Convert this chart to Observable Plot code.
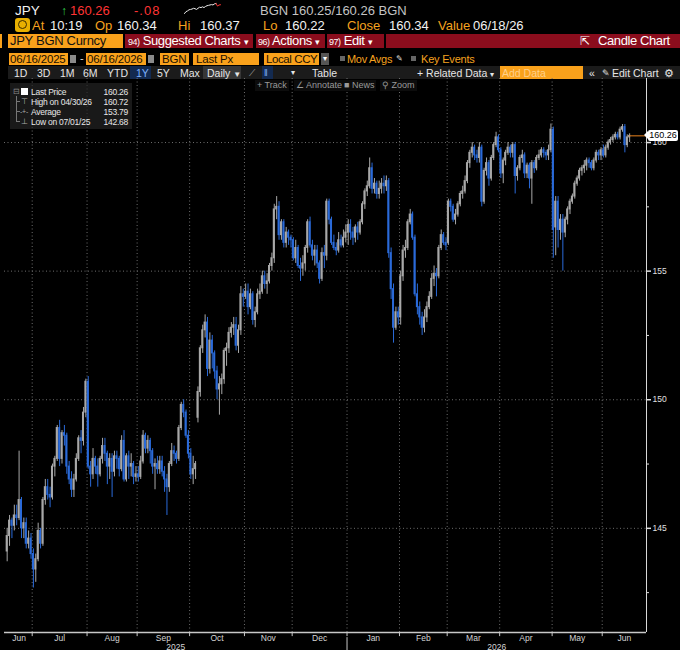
<!DOCTYPE html>
<html><head><meta charset="utf-8">
<script src="https://cdn.jsdelivr.net/npm/d3@7"></script>
<script src="https://cdn.jsdelivr.net/npm/@observablehq/plot@0.6"></script>
<style>
body{margin:0;background:#000;}
#page{position:relative;width:680px;height:650px;overflow:hidden;background:#000;font-family:"Liberation Sans",Arial,sans-serif;}
.a{position:absolute;white-space:nowrap;}
.r1{top:4px;font-size:13px;line-height:14px;}
.r2{top:19px;font-size:13px;line-height:14px;}
.o{color:#f5a21f;} .w{color:#f2f2f2;}
.ob{position:absolute;top:34px;height:14px;background:#f9a11b;color:#111;font-size:13px;line-height:14px;letter-spacing:-0.3px;white-space:nowrap;overflow:hidden;}
.rb{position:absolute;top:34px;height:14px;background:#8b0d1d;color:#fff;font-size:13px;line-height:14px;letter-spacing:-0.4px;white-space:nowrap;overflow:hidden;}
.rb small{font-size:9px;letter-spacing:-0.5px;}
.ib{position:absolute;top:53px;height:12px;background:#f9a11b;color:#1a1000;font-size:11.5px;line-height:12px;letter-spacing:-0.2px;white-space:nowrap;overflow:hidden;}
.r5{position:absolute;top:67px;font-size:10.5px;line-height:12px;color:#e6e6e6;white-space:nowrap;}
.r6{position:absolute;top:80px;font-size:9px;line-height:11px;color:#9a9a9a;background:#0c0c0c;padding:0 2px;white-space:nowrap;}
.lg{position:absolute;font-size:8.5px;line-height:10px;color:#e8e8e8;letter-spacing:-0.25px;white-space:nowrap;}
#tag{position:absolute;left:648px;width:30px;height:11px;background:#fff;color:#000;font-size:9px;line-height:11px;text-align:center;border-radius:2px;}
#tag:before{content:"";position:absolute;left:-4px;top:1.5px;border-top:4px solid transparent;border-bottom:4px solid transparent;border-right:4px solid #fff;}
</style></head>
<body><div id="page">
<!-- row 1 -->
<div class="a r1 w" style="left:15px;font-size:13.5px;">JPY</div>
<div class="a r1" style="left:61px;color:#2fd04a;font-size:12px;">↑</div>
<div class="a r1" style="left:70px;color:#ff3434;">160.26</div>
<div class="a r1" style="left:134px;color:#ff3434;letter-spacing:1px;">-.08</div>
<div class="a" id="spark" style="left:183px;top:2px;width:38px;height:12px;"></div>
<div class="a r1" style="left:260px;color:#c4c4c4;">BGN 160.25/160.26 BGN</div>
<!-- row 2 -->
<div class="a" style="left:15px;top:18px;width:15px;height:14px;background:#e8b000;border-radius:3px;"><div style="position:absolute;left:3px;top:2px;width:7px;height:7px;border:1.5px solid #3a2a00;border-radius:50%;"></div></div>
<div class="a r2 o" style="left:32px;">At</div>
<div class="a r2 w" style="left:50px;">10:19</div>
<div class="a r2 o" style="left:95px;">Op</div>
<div class="a r2 w" style="left:117px;">160.34</div>
<div class="a r2 o" style="left:178px;">Hi</div>
<div class="a r2 w" style="left:200px;">160.37</div>
<div class="a r2 o" style="left:263px;">Lo</div>
<div class="a r2 w" style="left:285px;">160.22</div>
<div class="a r2 o" style="left:347px;">Close</div>
<div class="a r2 w" style="left:389px;">160.34</div>
<div class="a r2 o" style="left:438px;">Value</div>
<div class="a r2 w" style="left:473px;">06/18/26</div>
<!-- row 3 -->
<div class="a" style="left:0;top:34px;width:2px;height:14px;background:#f9a11b;"></div>
<div class="ob" style="left:8px;width:115px;padding-left:2px;box-sizing:border-box;">JPY BGN Curncy</div>
<div class="rb" style="left:125px;width:128px;padding-left:3px;box-sizing:border-box;"><small>94)</small> Suggested Charts <small>▾</small></div>
<div class="rb" style="left:256px;width:69px;padding-left:2px;box-sizing:border-box;"><small>96)</small> Actions <small>▾</small></div>
<div class="rb" style="left:327px;width:57px;padding-left:2px;box-sizing:border-box;"><small>97)</small> Edit <small>▾</small></div>
<div class="rb" style="left:386px;width:294px;"><span style="position:absolute;left:194px;font-size:12px;">⇱</span><span style="position:absolute;left:212px;">Candle Chart</span></div>
<!-- row 4 -->
<div class="ib" style="left:9px;width:59px;padding-left:1px;box-sizing:border-box;">06/16/2025</div>
<div class="a" style="left:70px;top:55px;width:6px;height:8px;background:#8a8a8a;"></div>
<div class="a" style="left:80px;top:52px;font-size:11px;color:#ddd;">-</div>
<div class="ib" style="left:86px;width:60px;padding-left:1px;box-sizing:border-box;">06/16/2026</div>
<div class="a" style="left:148px;top:55px;width:6px;height:8px;background:#8a8a8a;"></div>
<div class="ib" style="left:160px;width:29px;padding-left:2px;box-sizing:border-box;">BGN</div>
<div class="ib" style="left:193px;width:66px;padding-left:3px;box-sizing:border-box;">Last Px</div>
<div class="ib" style="left:264px;width:55px;padding-left:2px;box-sizing:border-box;letter-spacing:-0.4px;">Local CCY</div>
<div class="a" style="left:321px;top:53px;width:8px;height:12px;background:#555;color:#fff;font-size:8px;line-height:12px;text-align:center;">▾</div>
<div class="a" style="left:340px;top:56px;width:5px;height:5px;background:#666;"></div>
<div class="a o" style="left:347px;top:53px;font-size:11px;line-height:12px;letter-spacing:-0.3px;">Mov Avgs</div>
<div class="a" style="left:396px;top:53px;font-size:8px;line-height:12px;color:#ddd;">✎</div>
<div class="a" style="left:411px;top:56px;width:5px;height:5px;background:#666;"></div>
<div class="a o" style="left:421px;top:53px;font-size:11px;line-height:12px;letter-spacing:-0.2px;">Key Events</div>
<!-- row 5 -->
<div class="a" style="left:8px;top:66px;width:672px;height:13px;background:#1b1b1b;"></div>
<div class="r5" style="left:14px;">1D</div>
<div class="r5" style="left:37px;">3D</div>
<div class="r5" style="left:60px;">1M</div>
<div class="r5" style="left:83px;">6M</div>
<div class="r5" style="left:107px;">YTD</div>
<div class="a" style="left:130px;top:66px;width:21px;height:13px;background:#132a50;"></div>
<div class="r5" style="left:136px;color:#7fb2ff;">1Y</div>
<div class="r5" style="left:157px;">5Y</div>
<div class="r5" style="left:180px;">Max</div>
<div class="a" style="left:203px;top:66px;width:38px;height:13px;background:#363636;"></div>
<div class="r5" style="left:207px;">Daily <span style="font-size:8px;">▼</span></div>
<div class="r5" style="left:249px;color:#aaa;font-size:9px;">⟋</div>
<div class="a" style="left:262px;top:66px;width:11px;height:13px;background:#132a50;"></div>
<div class="r5" style="left:264px;color:#7fb2ff;font-size:9px;">ǁ</div>
<div class="r5" style="left:291px;font-size:8px;">▾</div>
<div class="r5" style="left:312px;">Table</div>
<div class="r5" style="left:417px;">+ Related Data <span style="font-size:8px;">▾</span></div>
<div class="a" style="left:500px;top:66px;width:83px;height:13px;background:#f9a11b;"></div>
<div class="r5" style="left:502px;color:#ffd08a;">Add Data</div>
<div class="r5" style="left:589px;">«</div>
<div class="r5" style="left:602px;font-size:9px;">✎</div>
<div class="r5" style="left:612px;">Edit Chart</div>
<div class="r5" style="left:664px;">⚙</div>
<!-- chart -->
<div class="a" id="chart" style="left:0;top:78px;"></div>
<!-- row 6 -->
<div class="r6" style="left:255px;">+ Track</div>
<div class="r6" style="left:294px;">∠ Annotate</div>
<div class="r6" style="left:342px;">■ News</div>
<div class="r6" style="left:380px;">⚲ Zoom</div>
<!-- legend -->
<div class="a" style="left:10px;top:83px;width:122px;height:46px;background:rgba(34,34,34,0.72);"></div>
<div class="a" style="left:16px;top:96px;width:1px;height:26px;background:#777;"></div>
<div class="a" style="left:16px;top:101px;width:4px;height:1px;background:#777;"></div>
<div class="a" style="left:16px;top:111px;width:4px;height:1px;background:#777;"></div>
<div class="a" style="left:16px;top:121px;width:4px;height:1px;background:#777;"></div>
<div class="lg" style="left:13px;top:87px;color:#888;font-size:8px;">⊟</div>
<div class="a" style="left:21px;top:88px;width:7px;height:7px;background:#fff;"></div>
<div class="lg" style="left:21px;top:97px;color:#aaa;font-size:8px;">⊤</div>
<div class="lg" style="left:20px;top:107px;color:#aaa;font-size:7px;">-+-</div>
<div class="lg" style="left:21px;top:117px;color:#aaa;font-size:8px;">⊥</div>
<div class="lg" style="left:31px;top:87px;">Last Price</div>
<div class="lg" style="left:31px;top:97px;">High on 04/30/26</div>
<div class="lg" style="left:31px;top:107px;">Average</div>
<div class="lg" style="left:31px;top:117px;">Low on 07/01/25</div>
<div class="lg" style="left:98px;top:87px;width:30px;text-align:right;">160.26</div>
<div class="lg" style="left:98px;top:97px;width:30px;text-align:right;">160.72</div>
<div class="lg" style="left:98px;top:107px;width:30px;text-align:right;">153.79</div>
<div class="lg" style="left:98px;top:117px;width:30px;text-align:right;">142.68</div>
<div id="tag"></div>
</div>
<script>
// Daily OHLC, USD/JPY (JPY BGN Curncy), 06/16/2025 - 06/16/2026, one value per trading day
const opens = [
 144.1,144.7,145.3,145.1,145.5,145.4,146.1,145.0,145.2,144.4,144.6,
 144.0,143.4,143.8,144.9,144.4,146.1,146.6,146.3,146.2,147.4,147.7,148.9,147.7,148.7,148.6,147.4,146.9,146.5,146.9,147.7,148.5,148.4,149.5,
 150.7,147.4,147.1,147.7,147.4,147.1,147.7,148.2,147.9,147.4,147.7,147.2,147.8,147.7,147.3,148.4,146.9,147.8,147.4,147.5,147.0,
 147.1,147.0,147.6,148.6,148.1,148.4,148.0,147.4,147.5,147.3,147.6,147.2,146.9,146.6,147.5,148.0,147.9,147.7,148.9,149.8,149.5,148.6,
 147.9,147.1,147.3,149.3,150.3,152.0,152.7,153.0,151.2,152.3,151.8,151.1,150.4,150.6,150.8,151.9,152.0,152.6,152.8,152.9,152.1,152.7,154.1,
 154.0,154.2,153.6,154.1,153.1,153.4,154.1,154.2,154.8,154.5,154.6,155.2,155.5,157.4,157.5,156.4,156.9,156.1,156.5,156.3,
 156.2,155.5,155.9,155.2,155.1,155.3,155.9,156.9,156.0,155.6,155.8,155.3,154.7,155.7,155.6,157.7,157.0,156.1,155.9,155.8,156.2,156.0,156.3,
 156.5,156.8,156.5,156.3,156.7,156.5,156.9,157.6,158.1,158.3,159.0,158.2,158.4,158.0,158.2,158.4,158.3,158.5,155.7,154.3,152.8,153.4,
 153.2,154.8,155.8,155.9,156.9,157.2,156.3,154.1,153.6,153.2,152.8,153.2,153.6,154.0,154.7,154.9,154.8,155.9,156.4,156.1,
 156.1,157.7,157.5,157.0,157.2,157.6,158.0,158.1,158.5,159.2,159.6,159.8,159.5,159.4,159.8,157.7,158.9,159.2,158.6,159.4,159.9,160.2,
 159.7,158.8,159.3,159.6,159.8,159.6,159.9,158.7,159.0,159.4,159.5,158.8,159.1,158.6,159.2,159.0,159.4,159.5,159.7,159.6,159.5,159.7,
 160.5,156.7,157.7,156.6,157.0,156.5,157.0,157.4,157.7,157.9,158.4,158.6,158.9,159.0,159.1,159.3,159.2,159.0,159.3,159.6,159.5,
 159.7,159.5,159.8,160.0,160.1,160.2,160.3,160.2,160.5,160.6,159.9,160.2
];
const highs = [
 145.0,145.5,145.4,145.9,145.9,148.0,146.2,145.4,145.4,144.9,144.8,
 144.2,144.0,145.2,145.0,146.2,146.9,146.9,146.6,147.5,147.8,149.0,149.2,148.8,149.0,148.7,147.6,147.2,147.1,147.9,148.6,148.8,149.7,150.8,
 150.9,147.6,148.1,147.8,147.7,147.8,148.5,148.5,148.0,147.9,147.9,148.0,148.0,147.8,148.6,148.8,147.9,148.0,147.9,147.6,147.4,
 147.4,147.8,148.8,148.7,148.6,148.5,148.1,147.7,147.8,147.8,147.8,147.4,147.1,147.6,148.3,148.2,148.0,149.0,149.9,150.0,149.6,148.8,
 148.1,147.8,147.6,150.5,152.1,152.9,153.3,153.2,152.6,152.5,151.9,151.3,150.9,151.0,152.0,152.2,152.8,153.0,153.2,153.2,152.9,154.4,154.3,
 154.5,154.5,154.3,154.2,153.6,154.3,154.5,155.0,155.0,154.9,155.3,155.7,157.6,157.9,157.7,157.0,157.0,156.7,156.6,156.4,
 156.3,156.2,156.0,155.5,155.6,156.0,157.0,157.1,156.2,156.0,156.0,155.4,155.9,156.0,157.8,157.8,157.1,156.4,156.1,156.5,156.4,156.6,156.8,
 157.0,157.0,156.7,156.8,156.9,157.0,157.7,158.2,158.5,159.4,159.2,158.6,158.5,158.5,158.6,158.7,158.7,158.6,155.9,154.5,153.6,153.6,
 155.0,156.0,156.2,157.0,157.4,157.3,156.4,154.5,153.8,153.4,153.5,153.8,154.2,154.9,155.2,155.1,156.0,156.6,156.5,156.3,
 157.8,157.8,157.6,157.4,157.7,158.1,158.3,158.7,159.3,159.7,160.0,159.9,159.7,160.0,159.9,159.0,159.4,159.3,159.5,160.0,160.4,160.3,
 159.8,159.4,159.7,160.0,159.9,160.0,160.0,159.1,159.5,159.7,159.6,159.2,159.2,159.3,159.3,159.5,159.7,159.8,159.8,159.7,159.9,160.72,
 160.6,157.9,157.9,157.2,157.2,157.1,157.5,157.8,158.0,158.5,158.7,159.0,159.1,159.3,159.4,159.4,159.3,159.4,159.7,159.7,159.8,
 159.9,159.9,160.1,160.2,160.3,160.4,160.4,160.6,160.7,160.7,160.3,160.34
];
const lows = [
 143.7,144.3,144.6,144.9,145.1,145.3,144.6,144.6,144.2,144.2,143.8,
 142.68,142.9,143.7,144.2,144.3,145.9,146.1,145.8,146.1,147.0,147.6,147.4,147.5,148.2,147.1,146.7,146.2,146.2,146.8,147.6,147.9,148.2,149.3,
 147.3,146.6,146.9,147.1,146.6,147.0,147.5,147.6,146.7,146.9,146.2,147.0,147.3,147.0,147.2,146.8,146.8,146.9,147.0,146.7,146.8,
 146.8,146.9,147.5,147.9,147.9,147.5,147.1,146.5,147.1,147.1,147.0,146.4,145.5,146.4,147.4,147.6,147.5,147.6,148.8,149.3,148.5,147.7,
 146.9,146.7,146.9,149.1,150.1,151.8,152.4,150.9,151.0,151.2,150.8,150.0,149.4,150.2,150.6,151.3,151.8,152.4,152.5,151.9,151.8,152.5,153.6,
 153.9,153.3,153.5,152.9,152.8,153.3,153.9,154.1,154.3,154.1,154.5,155.0,155.3,157.0,156.2,156.2,155.9,155.9,156.0,155.9,
 155.4,155.3,155.1,154.6,154.8,155.0,155.7,155.9,155.4,155.2,155.1,154.5,154.6,155.1,155.4,156.8,156.0,155.8,155.6,155.7,155.9,155.9,156.1,
 156.0,156.2,156.0,156.1,156.2,156.4,156.8,157.4,157.9,158.2,158.0,158.0,157.8,157.8,158.0,158.0,158.1,155.5,153.9,152.2,152.7,152.9,
 152.9,154.6,155.5,155.8,156.8,156.2,154.0,153.3,152.9,152.5,152.6,153.0,153.5,153.9,154.4,154.0,154.7,155.8,156.0,155.8,
 156.0,157.3,156.9,156.8,157.1,157.5,157.8,158.0,158.4,159.0,159.4,159.3,159.2,159.2,157.5,157.6,158.7,158.3,158.5,159.3,159.8,159.6,
 158.6,158.4,159.1,159.5,159.4,159.4,158.0,158.5,158.9,159.2,158.6,158.6,158.2,157.6,158.8,158.9,159.3,159.4,159.4,159.3,159.3,159.6,
 155.5,155.6,155.9,156.2,155.0,156.3,156.8,157.2,157.6,157.8,158.3,158.5,158.7,158.8,158.9,159.0,158.9,158.9,159.2,159.3,159.3,
 159.4,159.4,159.7,159.9,160.0,160.1,160.1,160.1,160.4,159.6,159.8,160.0
];
const closes = [
 144.7,145.3,145.1,145.5,145.4,146.1,145.0,145.2,144.4,144.6,144.0,
 143.4,143.8,144.9,144.4,146.1,146.6,146.3,146.2,147.4,147.7,148.9,147.7,148.7,148.6,147.4,146.9,146.5,146.9,147.7,148.5,148.4,149.5,150.7,
 147.4,147.1,147.7,147.4,147.1,147.7,148.2,147.9,147.4,147.7,147.2,147.8,147.7,147.3,148.4,146.9,147.8,147.4,147.5,147.0,147.1,
 147.0,147.6,148.6,148.1,148.4,148.0,147.4,147.5,147.3,147.6,147.2,146.9,146.6,147.5,148.0,147.9,147.7,148.9,149.8,149.5,148.6,147.9,
 147.1,147.3,147.5,150.3,152.0,152.7,153.0,151.2,152.3,151.8,151.1,150.4,150.6,150.8,151.9,152.0,152.6,152.8,152.9,152.1,152.7,154.1,154.0,
 154.2,153.6,154.1,153.1,153.4,154.1,154.2,154.8,154.5,154.6,155.2,155.5,157.4,157.5,156.4,156.9,156.1,156.5,156.3,156.2,
 155.5,155.9,155.2,155.1,155.3,155.9,156.9,156.0,155.6,155.8,155.3,154.7,155.7,155.6,157.7,157.0,156.1,155.9,155.8,156.2,156.0,156.3,156.5,
 156.8,156.5,156.3,156.7,156.5,156.9,157.6,158.1,158.3,159.0,158.2,158.4,158.0,158.2,158.4,158.3,158.5,155.7,154.3,152.8,153.4,153.2,
 154.8,155.8,155.9,156.9,157.2,156.3,154.1,153.6,153.2,152.8,153.2,153.6,154.0,154.7,154.9,154.8,155.9,156.4,156.1,156.0,
 157.7,157.5,157.0,157.2,157.6,158.0,158.1,158.5,159.2,159.6,159.8,159.5,159.4,159.8,157.7,158.9,159.2,158.6,159.4,159.9,160.2,159.7,
 158.8,159.3,159.6,159.8,159.6,159.9,158.7,159.0,159.4,159.5,158.8,159.1,158.6,159.2,159.0,159.4,159.5,159.7,159.6,159.5,159.7,160.5,
 156.6,157.7,156.6,157.0,156.5,157.0,157.4,157.7,157.9,158.4,158.6,158.9,159.0,159.1,159.3,159.2,159.0,159.3,159.6,159.5,159.7,
 159.5,159.8,160.0,160.1,160.2,160.3,160.2,160.5,160.6,159.9,160.2,160.26
];
const monthNames = ["Jan","Feb","Mar","Apr","May","Jun","Jul","Aug","Sep","Oct","Nov","Dec"];
const priceTicks = [145, 150, 155, 160];
const minorTicks = [142.5, 147.5, 152.5, 157.5];
const firstDay = new Date(Date.UTC(2025, 5, 16));
const lastDay = new Date(Date.UTC(2026, 5, 16));

const UP = "#a8a8a8", DOWN = "#2a6ad9";
const X0 = -1.115, X1 = 268.07, Y0 = 140.95, Y1 = 162.49;

// trading (week) days of the period
const days = d3.utcDay.range(firstDay, d3.utcDay.offset(lastDay, 1))
  .filter(d => d.getUTCDay() !== 0 && d.getUTCDay() !== 6);
const candles = closes.map((c, i) => ({i, o: opens[i], h: highs[i], l: lows[i], c, up: c >= opens[i]}));
const upC = candles.filter(d => d.up), downC = candles.filter(d => !d.up);

// month boundaries (between trading days)
const bounds = [];
for (let i = 1; i < days.length; i++) if (days[i].getUTCMonth() !== days[i-1].getUTCMonth()) bounds.push(i - 0.5);
const edges = [-0.5, ...bounds, X1];
const monthLabels = [];
for (let k = 0; k < edges.length - 1; k++) {
  const idx = k === 0 ? 0 : Math.ceil(edges[k]);
  monthLabels.push({mid: (edges[k] + edges[k+1]) / 2, name: monthNames[days[Math.min(idx, days.length-1)].getUTCMonth()]});
}
const janB = bounds.find(b => days[Math.ceil(b)].getUTCMonth() === 0);
const years = [
  {mid: (X0 + janB) / 2, name: String(days[0].getUTCFullYear())},
  {mid: (janB + X1) / 2, name: String(days[days.length-1].getUTCFullYear())}
];
const lastClose = closes[closes.length - 1];

const chart = Plot.plot({
  width: 680, height: 572,
  marginLeft: 4, marginRight: 34, marginTop: 0, marginBottom: 18,
  style: {background: "transparent", color: "#e0e0e0", fontFamily: "Liberation Sans, Arial, sans-serif", overflow: "visible"},
  x: {domain: [X0, X1], axis: null},
  y: {domain: [Y0, Y1], axis: null},
  marks: [
    Plot.ruleY(priceTicks, {stroke: "#6e6e6e", strokeDasharray: "1,2.5"}),
    Plot.ruleX(bounds, {stroke: "#6e6e6e", strokeDasharray: "1,2.5"}),
    Plot.ruleX(upC, {x: "i", y1: "l", y2: "h", stroke: UP, strokeWidth: 1}),
    Plot.ruleX(downC, {x: "i", y1: "l", y2: "h", stroke: DOWN, strokeWidth: 1}),
    Plot.rect(upC, {x1: d => d.i - 0.42, x2: d => d.i + 0.42, y1: "o", y2: "c", fill: UP, insetTop: -0.5, insetBottom: -0.5}),
    Plot.rect(downC, {x1: d => d.i - 0.42, x2: d => d.i + 0.42, y1: "o", y2: "c", fill: DOWN, insetTop: -0.5, insetBottom: -0.5}),
    Plot.ruleY([lastClose], {x1: candles.length - 1, x2: X1, stroke: "#e8821e"}),
    Plot.ruleX([X1], {y1: Y0, y2: Y1, stroke: "#d8d8d8"}),
    Plot.ruleY([Y0], {stroke: "#c8c8c8", strokeWidth: 1.3}),
    Plot.ruleX(bounds, {y1: Y0, y2: Y0 - 0.16, stroke: "#c8c8c8"}),
    Plot.ruleX([janB], {y1: Y0 - 0.2, y2: Y0 - 1.2, stroke: "#c8c8c8"}),
    Plot.axisY(priceTicks, {anchor: "right", tickSize: 4, tickPadding: 2, fontSize: 8.5, strokeWidth: 1.5}),
    Plot.axisY(minorTicks, {anchor: "right", tickSize: 2, tickFormat: () => ""}),
    Plot.text(monthLabels, {x: "mid", text: "name", frameAnchor: "bottom", dy: 8, fontSize: 8.5, fill: "#d4d4d4"}),
    Plot.text(years, {x: "mid", text: "name", frameAnchor: "bottom", dy: 17, fontSize: 8.5, fill: "#d4d4d4"})
  ]
});
document.getElementById("chart").appendChild(chart);

// last price tag positioned with the chart's own y scale
const tag = document.getElementById("tag");
tag.textContent = lastClose.toFixed(2);
tag.style.top = (78 + chart.scale("y").apply(lastClose) - 5.5) + "px";

// header sparkline
const sp = closes.slice(-25).map((v, i) => ({i, v}));
const spark = Plot.plot({
  width: 38, height: 12, margin: 1, axis: null,
  style: {background: "transparent"},
  x: {axis: null}, y: {axis: null},
  marks: [
    Plot.line(sp.slice(0, -3), {x: "i", y: "v", stroke: "#eee", strokeWidth: 1}),
    Plot.line(sp.slice(-4), {x: "i", y: "v", stroke: "#ff3434", strokeWidth: 1})
  ]
});
document.getElementById("spark").appendChild(spark);
</script>
</body></html>
